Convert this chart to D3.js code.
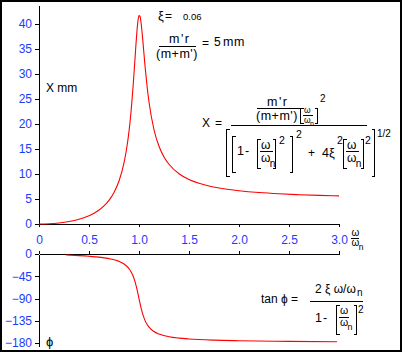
<!DOCTYPE html>
<html>
<head>
<meta charset="utf-8">
<script src="https://cdn.jsdelivr.net/npm/d3@7"></script>
<style>
  body { margin: 0; background: #fff; }
  svg { display: block; font-family: "Liberation Sans", Arial, sans-serif; }
</style>
</head>
<body>
<svg id="chart" width="403" height="354"></svg>
<script>
// forced vibration, zeta = 0.06, m'r/(m+m') = 5 mm
const ratio = [0, 0.1, 0.2, 0.3, 0.4, 0.5, 0.55, 0.6, 0.65, 0.7, 0.75, 0.8, 0.85, 0.88, 0.9, 0.92, 0.94, 0.96, 0.97, 0.98, 0.99, 1.0,
               1.01, 1.02, 1.03, 1.04, 1.06, 1.08, 1.1, 1.15, 1.2, 1.25, 1.3, 1.4, 1.5, 1.6, 1.7, 1.8, 1.9, 2.0, 2.2, 2.4, 2.6, 2.8, 3.0];
const amplitude = [0, 0.05, 0.21, 0.49, 0.95, 1.66, 2.16, 2.79, 3.63, 4.74, 6.30, 8.59, 12.22, 15.55, 18.53, 22.37, 27.26, 33.07, 36.04, 38.70, 40.69, 41.67,
                   41.52, 40.36, 38.50, 36.27, 31.68, 27.65, 24.39, 18.85, 15.55, 13.42, 11.95, 10.06, 8.91, 8.14, 7.60, 7.20, 6.89, 6.65, 6.29, 6.04, 5.86, 5.72, 5.62];

const phaseRatio = [0.27, 0.3, 0.4, 0.5, 0.6, 0.7, 0.75, 0.8, 0.85, 0.9, 0.92, 0.94, 0.96, 0.98, 1.0,
                    1.02, 1.04, 1.06, 1.08, 1.1, 1.15, 1.2, 1.3, 1.4, 1.5, 1.75, 2.0, 2.5, 2.98];
const phase = [-2.0, -2.3, -3.3, -4.6, -6.4, -9.4, -11.6, -14.9, -20.2, -29.6, -35.7, -44.1, -55.8, -71.4, -90,
               -108.3, -123.2, -134.2, -142.1, -147.9, -156.8, -161.9, -167.3, -170.1, -171.8, -174.2, -175.4, -176.7, -177.4];

const xTicks = [0, 0.5, 1.0, 1.5, 2.0, 2.5, 3.0];
const xLabels = ['0', '0.5', '1.0', '1.5', '2.0', '2.5', '3.0'];
const ampTicks = [0, 5, 10, 15, 20, 25, 30, 35, 40];
const phaseTicks = [0, -45, -90, -135, -180];

const blue = '#1a3cff';
const red = '#ff0000';

const svg = d3.select('#chart');

const x = d3.scaleLinear().domain([0, 3]).range([39, 339]);
const y = d3.scaleLinear().domain([0, 43.8]).range([224, 5]);
const yp = d3.scaleLinear().domain([0, -187]).range([254, 346.5]);

// frame
svg.append('rect')
   .attr('x', 1).attr('y', 1)
   .attr('width', 400).attr('height', 350)
   .attr('fill', 'none').attr('stroke', '#000').attr('stroke-width', 2);

function styleAxis(g)
{
  g.selectAll('path, line').attr('stroke', '#000').attr('shape-rendering', 'crispEdges');
  g.selectAll('text').attr('fill', blue).attr('font-size', 12).attr('font-family', null);
}

// amplitude axes
svg.append('g')
   .attr('transform', 'translate(' + x(0) + ',0)')
   .call(d3.axisLeft(y).tickValues(ampTicks).tickSize(4).tickSizeOuter(0).tickPadding(3))
   .call(styleAxis);

svg.append('g')
   .attr('transform', 'translate(0,224)')
   .call(d3.axisBottom(x).tickValues(xTicks).tickFormat((d, i) => xLabels[i]).tickSize(3).tickSizeOuter(0).tickPadding(8))
   .call(styleAxis);

// phase axes
svg.append('g')
   .attr('transform', 'translate(' + x(0) + ',0)')
   .call(d3.axisLeft(yp).tickValues(phaseTicks).tickSize(4).tickSizeOuter(0).tickPadding(3))
   .call(styleAxis);

svg.append('g')
   .attr('transform', 'translate(0,254)')
   .call(d3.axisTop(x).tickValues(xTicks).tickFormat('').tickSize(3).tickSizeOuter(0))
   .call(styleAxis);

// curves
const ampLine = d3.line()
                  .curve(d3.curveMonotoneX)
                  .x((d, i) => x(ratio[i]))
                  .y(d => y(d));

svg.append('path')
   .datum(amplitude)
   .attr('fill', 'none')
   .attr('stroke', red)
   .attr('stroke-width', 1.1)
   .attr('d', ampLine);

const phaseLine = d3.line()
                    .curve(d3.curveMonotoneX)
                    .x((d, i) => x(phaseRatio[i]))
                    .y(d => yp(d));

svg.append('path')
   .datum(phase)
   .attr('fill', 'none')
   .attr('stroke', red)
   .attr('stroke-width', 1.1)
   .attr('d', phaseLine);

// text helpers
function txt(str, px, py, size, anchor, spacing)
{
  return svg.append('text')
            .attr('x', px).attr('y', py)
            .attr('font-size', size || 12)
            .attr('text-anchor', anchor || 'start')
            .attr('letter-spacing', spacing || 0)
            .attr('fill', '#000')
            .text(str);
}

function hline(x0, x1, py)
{
  svg.append('line')
     .attr('x1', x0).attr('x2', x1)
     .attr('y1', py).attr('y2', py)
     .attr('stroke', '#000').attr('stroke-width', 1)
     .attr('shape-rendering', 'crispEdges');
}

// dir 1 = opening bracket, -1 = closing bracket
function brk(px, y0, y1, dir)
{
  svg.append('path')
     .attr('d', 'M' + (px + 3 * dir) + ',' + y0 + 'H' + px + 'V' + y1 + 'H' + (px + 3 * dir))
     .attr('fill', 'none')
     .attr('stroke', '#000').attr('stroke-width', 1)
     .attr('shape-rendering', 'crispEdges');
}

// omega / omega_n fraction
function wfrac(x0, x1, yl, size, up, down)
{
  txt('\u03c9', x0 + 1, yl - up, size);
  hline(x0, x1, yl);
  txt('\u03c9', x0 + 1, yl + down, size);
  txt('n', x0 + 1 + size * 0.72, yl + down + size * 0.4, size * 0.85);
}

// x axis title
wfrac(350.5, 358.5, 238.5, 10, 2.5, 7.5);

// axis titles
txt('X mm', 46, 92, 12);
txt('\u03d5', 46, 346, 13);

// parameters
txt('\u03be', 158, 20, 13);
txt('=', 165, 20, 12);
txt('0.06', 183, 20, 9.5);
txt("m'r", 169, 43, 12.5, 'start', 1.5);
hline(159, 196, 46.5);
txt("(m+m')", 156, 58, 12.5, 'start', 0.5);
txt('=', 202, 47, 12);
txt('5', 214, 46, 12);
txt('mm', 223, 46, 12.5, 'start', 0.5);

// amplitude formula
txt('X', 202, 127, 12);
txt('=', 215, 127, 12);
hline(231, 367, 125.5);
txt("m'r", 267, 106, 12.5, 'start', 1.5);
hline(257, 300, 108.5);
txt("(m+m')", 256, 120, 12.5, 'start', 0.5);
brk(300.5, 108.5, 123.5, 1);
wfrac(303, 313, 115.5, 8.5, 2.5, 7.5);
brk(317.5, 108.5, 123.5, -1);
txt('2', 320, 102, 10);

brk(226.5, 129.5, 176.5, 1);
brk(232.5, 136.5, 172.5, 1);
txt('1-', 237, 155, 12.5, 'start', 1);
brk(257.5, 139.5, 168.5, 1);
wfrac(260, 273, 151.5, 12, 3, 10.5);
brk(275.5, 139.5, 168.5, -1);
txt('2', 279, 144, 10.5);
brk(292.5, 136.5, 172.5, -1);
txt('2', 296, 138, 10.5);
txt('+', 308, 157, 12);
txt('4', 322, 157, 12.5);
txt('\u03be', 329, 157, 13);
txt('2', 337, 144, 10.5);
brk(343.5, 139.5, 168.5, 1);
wfrac(346, 359, 151.5, 12, 3, 10.5);
brk(363.5, 139.5, 168.5, -1);
txt('2', 365, 144, 10.5);
brk(374.5, 129.5, 176.5, -1);
txt('1/2', 377, 137, 10);

// phase formula
txt('tan \u03d5 =', 261, 303, 12);
hline(310, 363, 301.5);
txt('2 \u03be \u03c9/\u03c9', 315, 293, 12);
txt('n', 357, 296, 10);
txt('1-', 315, 322, 12.5, 'start', 1);
brk(336.5, 305.5, 334.5, 1);
wfrac(339, 349, 317.5, 10.5, 4, 8);
brk(356.5, 305.5, 334.5, -1);
txt('2', 358, 313, 10);
</script>
</body>
</html>
